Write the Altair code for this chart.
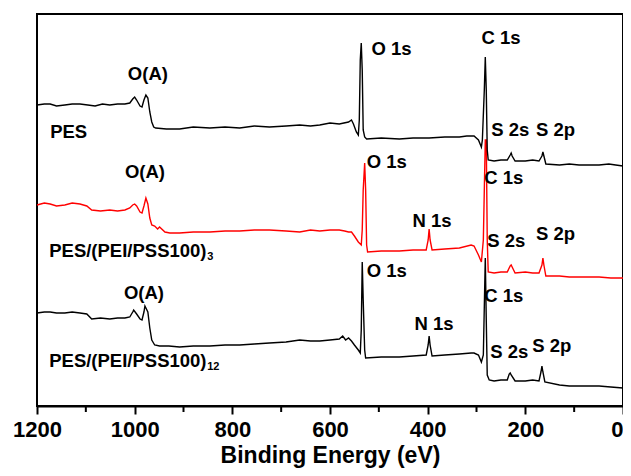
import altair as alt
import pandas as pd

# Binding energy (eV) and intensity (a.u.)
pes_ev = [1200, 1185, 1173, 1160, 1143, 1128, 1112, 1096, 1081, 1066, 1051, 1035, 1020, 1010, 1004, 1000,
          996, 989, 985, 981, 977, 973, 969, 965, 961, 957, 935, 908, 880, 846, 815, 785, 755, 724, 690,
          662, 640, 621, 600, 581, 562, 556, 552, 546, 542, 540, 538, 536, 534, 532, 529, 525, 495, 458,
          430, 397, 365, 335, 320, 305, 296, 290, 288, 284, 282, 280, 278, 276, 264, 250, 237, 231, 229,
          227, 221, 200, 185, 172, 166, 164, 162, 158, 130, 110, 90, 70, 49, 29, 15, 0]
pes_int = [301, 302, 302, 300, 301, 302, 302, 301, 300, 302, 301, 302, 302, 303, 307, 309,
           306, 300, 299, 306, 311, 308, 294, 284, 279, 278, 277, 277, 279, 278, 279, 278, 280, 279, 280,
           281, 280, 281, 283, 282, 284, 286, 282, 274, 271, 286, 346, 363, 336, 276, 269, 267, 268, 267,
           268, 268, 269, 269, 270, 270, 266, 259, 266, 316, 349, 316, 256, 246, 245, 246, 246, 251, 253,
           250, 245, 245, 246, 245, 250, 254, 250, 242, 241, 242, 241, 241, 241, 242, 241, 240]

pei3_ev = [1200, 1185, 1173, 1160, 1143, 1128, 1112, 1098, 1088, 1070, 1051, 1035, 1020, 1010, 1004, 1000,
           996, 989, 985, 981, 977, 973, 969, 965, 959, 953, 949, 938, 928, 908, 880, 846, 815, 785, 755,
           724, 690, 662, 640, 621, 600, 581, 570, 562, 556, 550, 542, 536, 534, 532, 529, 527, 525, 523,
           495, 458, 430, 403, 399, 397, 395, 391, 365, 335, 311, 305, 296, 290, 286, 282, 280, 278, 276,
           264, 250, 237, 231, 229, 227, 221, 200, 185, 172, 166, 164, 162, 158, 130, 110, 90, 70, 49, 25, 0]
pei3_int = [201, 203, 202, 200, 201, 203, 202, 200, 196, 195, 196, 195, 196, 198, 201, 202,
            200, 194, 193, 200, 208, 202, 188, 181, 180, 177, 179, 174, 173, 173, 174, 174, 175, 175, 176,
            176, 175, 174, 176, 175, 176, 176, 175, 174, 174, 170, 164, 161, 176, 216, 243, 216, 161, 154,
            155, 155, 156, 156, 166, 177, 166, 156, 157, 158, 161, 160, 151, 144, 166, 266, 266, 166, 134,
            133, 134, 134, 140, 141, 139, 133, 134, 133, 133, 141, 148, 141, 130, 130, 129, 129, 129, 129, 128, 128]

pei12_ev = [1200, 1185, 1173, 1160, 1143, 1128, 1112, 1098, 1088, 1070, 1051, 1035, 1020, 1010, 1004, 1002,
            996, 989, 985, 981, 979, 973, 969, 965, 959, 949, 930, 908, 880, 846, 815, 785, 755, 724, 690,
            662, 640, 621, 600, 581, 574, 568, 562, 556, 550, 542, 538, 536, 534, 532, 529, 527, 495, 458,
            430, 403, 399, 397, 395, 391, 365, 335, 311, 305, 296, 290, 286, 282, 280, 278, 274, 264, 250,
            237, 233, 231, 229, 221, 200, 185, 172, 168, 166, 164, 160, 130, 110, 90, 70, 49, 25, 0]
pei12_int = [93, 94, 94, 93, 93, 94, 93, 92, 87, 88, 87, 88, 88, 89, 94, 96,
             92, 87, 86, 94, 100, 94, 78, 66, 61, 60, 60, 59, 60, 60, 61, 61, 62, 63, 64,
             66, 65, 65, 66, 67, 70, 66, 68, 65, 61, 56, 53, 76, 144, 106, 56, 48, 49, 49,
             50, 51, 61, 70, 61, 50, 51, 52, 53, 53, 51, 44, 51, 148, 86, 31, 26, 25, 26,
             26, 32, 33, 31, 25, 25, 26, 25, 34, 40, 34, 24, 21, 20, 20, 20, 20, 19, 18]

series_names = ["PES", "PES/(PEI/PSS100)3", "PES/(PEI/PSS100)12"]
series_colors = ["#000000", "#ff0000", "#000000"]

label_text = ["O(A)", "PES", "O 1s", "C 1s", "S 2s", "S 2p",
              "O(A)", "PES/(PEI/PSS100)", "O 1s", "C 1s", "N 1s", "S 2s", "S 2p",
              "O(A)", "PES/(PEI/PSS100)", "O 1s", "C 1s", "N 1s", "S 2s", "S 2p"]
label_ev = [1014, 1173, 515, 290, 270, 178,
            1020, 1175, 525, 284, 431, 278, 178,
            1022, 1175, 525, 284, 427, 272, 186]
label_int = [326, 268, 351, 362, 270, 270,
             228, 149, 238, 222, 179, 159, 166,
             107, 39, 129, 104, 76, 48, 54]

sub_text = ["3", "12"]
sub_ev = [1175, 1175]
sub_int = [149, 39]

major_ticks = [1200, 1000, 800, 600, 400, 200, 0]
minor_ticks_ev = [1100, 900, 700, 500, 300, 100]

frames = []
for name, ev, inten in [(series_names[0], pes_ev, pes_int),
                        (series_names[1], pei3_ev, pei3_int),
                        (series_names[2], pei12_ev, pei12_int)]:
    frames.append(pd.DataFrame({"ev": ev, "inten": inten, "series": name}))
spec = pd.concat(frames, ignore_index=True)

labels = pd.DataFrame({"text": label_text, "ev": label_ev, "inten": label_int})
subs = pd.DataFrame({"text": sub_text, "ev": sub_ev, "inten": sub_int})
minor = pd.DataFrame({"ev": minor_ticks_ev})

FONT = "Liberation Sans"

xscale = alt.Scale(domain=[1200, 0], nice=False)
yscale = alt.Scale(domain=[0, 392], nice=False)

xaxis = alt.Axis(title="Binding Energy (eV)", values=major_ticks,
                 format="d", grid=False, tickSize=8, tickWidth=2, tickColor="black",
                 domainColor="black", domainWidth=2, labelFont=FONT, labelFontSize=22,
                 labelFontWeight="bold", labelColor="black", labelPadding=5,
                 labelFlush=False, labelOverlap=False,
                 labelAlign={"condition": {"test": "datum.value == 0", "value": "right"},
                             "value": "center"},
                 titleFont=FONT, titleFontSize=23, titleFontWeight="bold",
                 titleColor="black", titlePadding=4)


def trace(name, color):
    return alt.Chart(spec[spec.series == name]).mark_line(
        strokeWidth=1.4, color=color).encode(
        x=alt.X("ev:Q", scale=xscale, axis=xaxis),
        y=alt.Y("inten:Q", scale=yscale, axis=None))


red_line = trace(series_names[1], series_colors[1])
black_top = trace(series_names[0], series_colors[0])
black_bot = trace(series_names[2], series_colors[2])

text = alt.Chart(labels).mark_text(font=FONT, fontSize=18.5, fontWeight="bold", align="left",
                                   baseline="alphabetic", color="black").encode(
    x=alt.X("ev:Q", scale=xscale, axis=xaxis), y=alt.Y("inten:Q", scale=yscale, axis=None),
    text="text:N")

subtext = alt.Chart(subs).mark_text(font=FONT, fontSize=11, fontWeight="bold", align="left",
                                    baseline="alphabetic", color="black", dx=158, dy=3).encode(
    x=alt.X("ev:Q", scale=xscale, axis=xaxis), y=alt.Y("inten:Q", scale=yscale, axis=None),
    text="text:N")

minor_ticks = alt.Chart(minor).mark_rule(strokeWidth=2, color="black").encode(
    x=alt.X("ev:Q", scale=xscale, axis=xaxis), y=alt.value(392), y2=alt.value(398))

chart = alt.layer(red_line, black_top, black_bot, text, subtext, minor_ticks).properties(
    width=586, height=392,
    autosize=alt.AutoSizeParams(type="none"),
    padding={"left": 29, "top": 6, "right": 0, "bottom": 64},
).configure(background="white").configure_view(stroke="black", strokeWidth=2)

chart.save("out.html", embed_options={"renderer": "svg", "actions": False})
